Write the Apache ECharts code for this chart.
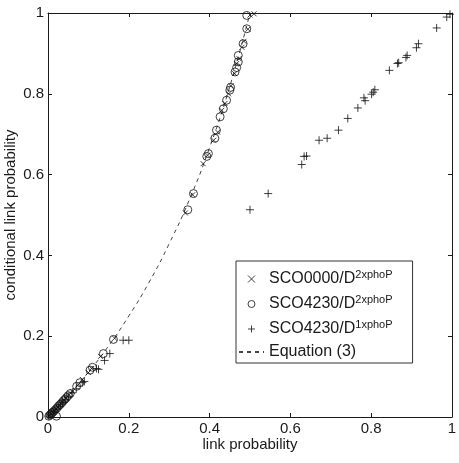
<!DOCTYPE html>
<html>
<head>
<meta charset="utf-8">
<script src="https://cdn.jsdelivr.net/npm/echarts@6/dist/echarts.min.js"></script>
<style>
  html, body { margin: 0; padding: 0; background: #fff; }
  #chart { width: 459px; height: 463px; }
</style>
</head>
<body>
<div id="chart"></div>
<script>
// values
const xTicks = [0, 0.2, 0.4, 0.6, 0.8, 1]

const crossX = [0.003, 0.007, 0.012, 0.016, 0.02, 0.025, 0.03, 0.035, 0.04, 0.045, 0.052, 0.06, 0.075, 0.085, 0.1, 0.108, 0.13, 0.165, 0.34, 0.358, 0.384, 0.395, 0.41, 0.42, 0.43, 0.438, 0.447, 0.453, 0.462, 0.467, 0.473, 0.48, 0.485, 0.495, 0.5, 0.51]
const crossY = [0.003, 0.007, 0.012, 0.016, 0.02, 0.025, 0.03, 0.036, 0.041, 0.047, 0.055, 0.063, 0.08, 0.093, 0.11, 0.12, 0.15, 0.195, 0.505, 0.55, 0.627, 0.648, 0.685, 0.705, 0.759, 0.776, 0.8, 0.82, 0.85, 0.875, 0.887, 0.915, 0.93, 0.96, 0.995, 0.998]

const circleX = [0.002, 0.005, 0.008, 0.011, 0.014, 0.018, 0.021, 0.022, 0.026, 0.03, 0.034, 0.038, 0.042, 0.046, 0.05, 0.055, 0.071, 0.079, 0.104, 0.11, 0.137, 0.162, 0.346, 0.36, 0.393, 0.397, 0.413, 0.417, 0.426, 0.434, 0.442, 0.45, 0.452, 0.463, 0.467, 0.471, 0.471, 0.483, 0.492, 0.492]
const circleY = [0.002, 0.005, 0.008, 0.011, 0.014, 0.018, 0.002, 0.022, 0.027, 0.031, 0.035, 0.04, 0.044, 0.048, 0.053, 0.058, 0.076, 0.085, 0.116, 0.123, 0.157, 0.192, 0.513, 0.553, 0.645, 0.652, 0.69, 0.71, 0.743, 0.763, 0.784, 0.809, 0.816, 0.854, 0.865, 0.879, 0.895, 0.924, 0.961, 0.994]

const plusX = [0.002, 0.006, 0.01, 0.015, 0.02, 0.025, 0.03, 0.036, 0.042, 0.05, 0.06, 0.07, 0.085, 0.09, 0.12, 0.125, 0.14, 0.153, 0.186, 0.2, 0.5, 0.545, 0.628, 0.634, 0.64, 0.671, 0.691, 0.719, 0.742, 0.767, 0.782, 0.785, 0.801, 0.805, 0.809, 0.845, 0.865, 0.868, 0.886, 0.889, 0.912, 0.917, 0.962, 0.987, 0.995]
const plusY = [0.002, 0.006, 0.01, 0.015, 0.02, 0.025, 0.03, 0.036, 0.042, 0.05, 0.06, 0.07, 0.085, 0.088, 0.12, 0.118, 0.14, 0.157, 0.19, 0.19, 0.513, 0.553, 0.625, 0.645, 0.646, 0.685, 0.69, 0.71, 0.739, 0.765, 0.79, 0.783, 0.799, 0.804, 0.81, 0.858, 0.875, 0.877, 0.89, 0.895, 0.914, 0.924, 0.963, 0.99, 0.997]

// dashed curve "Equation (3)"
const eqX = [0, 0.05, 0.1, 0.15, 0.2, 0.25, 0.3, 0.35, 0.4, 0.45, 0.5]
const eqY = [0, 0.053, 0.111, 0.176, 0.25, 0.333, 0.429, 0.538, 0.667, 0.818, 1.0]

const FONT = '"Liberation Sans", Arial, Helvetica, sans-serif'
const INK = '#1a1a1a'

const zip = (xs, ys) => xs.map((x, i) => [x, ys[i]])

const chart = echarts.init(document.getElementById('chart'))

function axis(pos, showLabel, name) {
  return {
    type: 'value',
    position: pos,
    min: 0,
    max: 1,
    interval: 0.2,
    name: name || '',
    nameLocation: 'middle',
    nameMoveOverlap: false,
    nameTextStyle: { color: INK, fontSize: 15, fontFamily: FONT },
    axisLine: { show: true, onZero: false, lineStyle: { color: INK, width: 1 } },
    axisTick: { show: true, inside: true, length: 4, lineStyle: { color: INK } },
    axisLabel: { show: showLabel, color: INK, fontSize: 15, fontFamily: FONT, margin: 4 },
    splitLine: { show: false },
  }
}

const xBottom = axis('bottom', true, 'link probability')
xBottom.nameGap = 20
const yLeft = axis('left', true, 'conditional link probability')
yLeft.nameGap = 30

const crossPath = 'path://M0,0L10,10M0,10L10,0'
const plusPath = 'path://M5,0L5,10M0,5L10,5'

chart.setOption({
  animation: false,
  textStyle: { fontFamily: FONT },
  grid: { left: 48, right: 7, top: 13, bottom: 46, outerBoundsMode: 'none', containLabel: false },
  xAxis: [xBottom, axis('top', false)],
  yAxis: [yLeft, axis('right', false)],
  legend: {
    orient: 'vertical',
    left: 236,
    top: 261,
    backgroundColor: '#fff',
    borderColor: '#333',
    borderWidth: 1,
    borderRadius: 0,
    padding: [8, 20, 3, 2],
    itemWidth: 25,
    itemHeight: 7,
    itemGap: 7,
    itemStyle: { borderWidth: 1 },
    data: [
      'SCO0000/D2',
      'SCO4230/D2',
      'SCO4230/D1',
      { name: 'Equation (3)', itemStyle: { opacity: 0 } },
    ],
    formatter: (n) => {
      if (n === 'SCO0000/D2') return '{a|SCO0000/D}{s|2xphoP}'
      if (n === 'SCO4230/D2') return '{a|SCO4230/D}{s|2xphoP}'
      if (n === 'SCO4230/D1') return '{a|SCO4230/D}{s|1xphoP}'
      return '{a|' + n + '}'
    },
    textStyle: {
      color: INK,
      rich: {
        a: { fontSize: 16, fontFamily: FONT, color: INK, lineHeight: 20 },
        s: { fontSize: 11, fontFamily: FONT, color: INK, lineHeight: 11, verticalAlign: 'top' },
      },
    },
  },
  series: [
    {
      name: 'Equation (3)',
      type: 'line',
      data: zip(eqX, eqY),
      smooth: true,
      symbol: 'none',
      z: 1,
      itemStyle: { color: '#444' },
      lineStyle: { color: '#444', width: 1, type: [4, 4] },
    },
    {
      name: 'SCO0000/D2',
      type: 'scatter',
      data: zip(crossX, crossY),
      symbol: crossPath,
      symbolSize: 5,
      z: 3,
      itemStyle: { color: '#000', borderColor: '#111', borderWidth: 1 },
    },
    {
      name: 'SCO4230/D2',
      type: 'scatter',
      data: zip(circleX, circleY),
      symbol: 'circle',
      symbolSize: 8,
      z: 3,
      itemStyle: { color: 'rgba(0,0,0,0)', borderColor: '#111', borderWidth: 1 },
    },
    {
      name: 'SCO4230/D1',
      type: 'scatter',
      data: zip(plusX, plusY),
      symbol: plusPath,
      symbolSize: 8,
      z: 3,
      itemStyle: { color: '#000', borderColor: '#111', borderWidth: 1 },
    },
  ],
})
</script>
</body>
</html>
